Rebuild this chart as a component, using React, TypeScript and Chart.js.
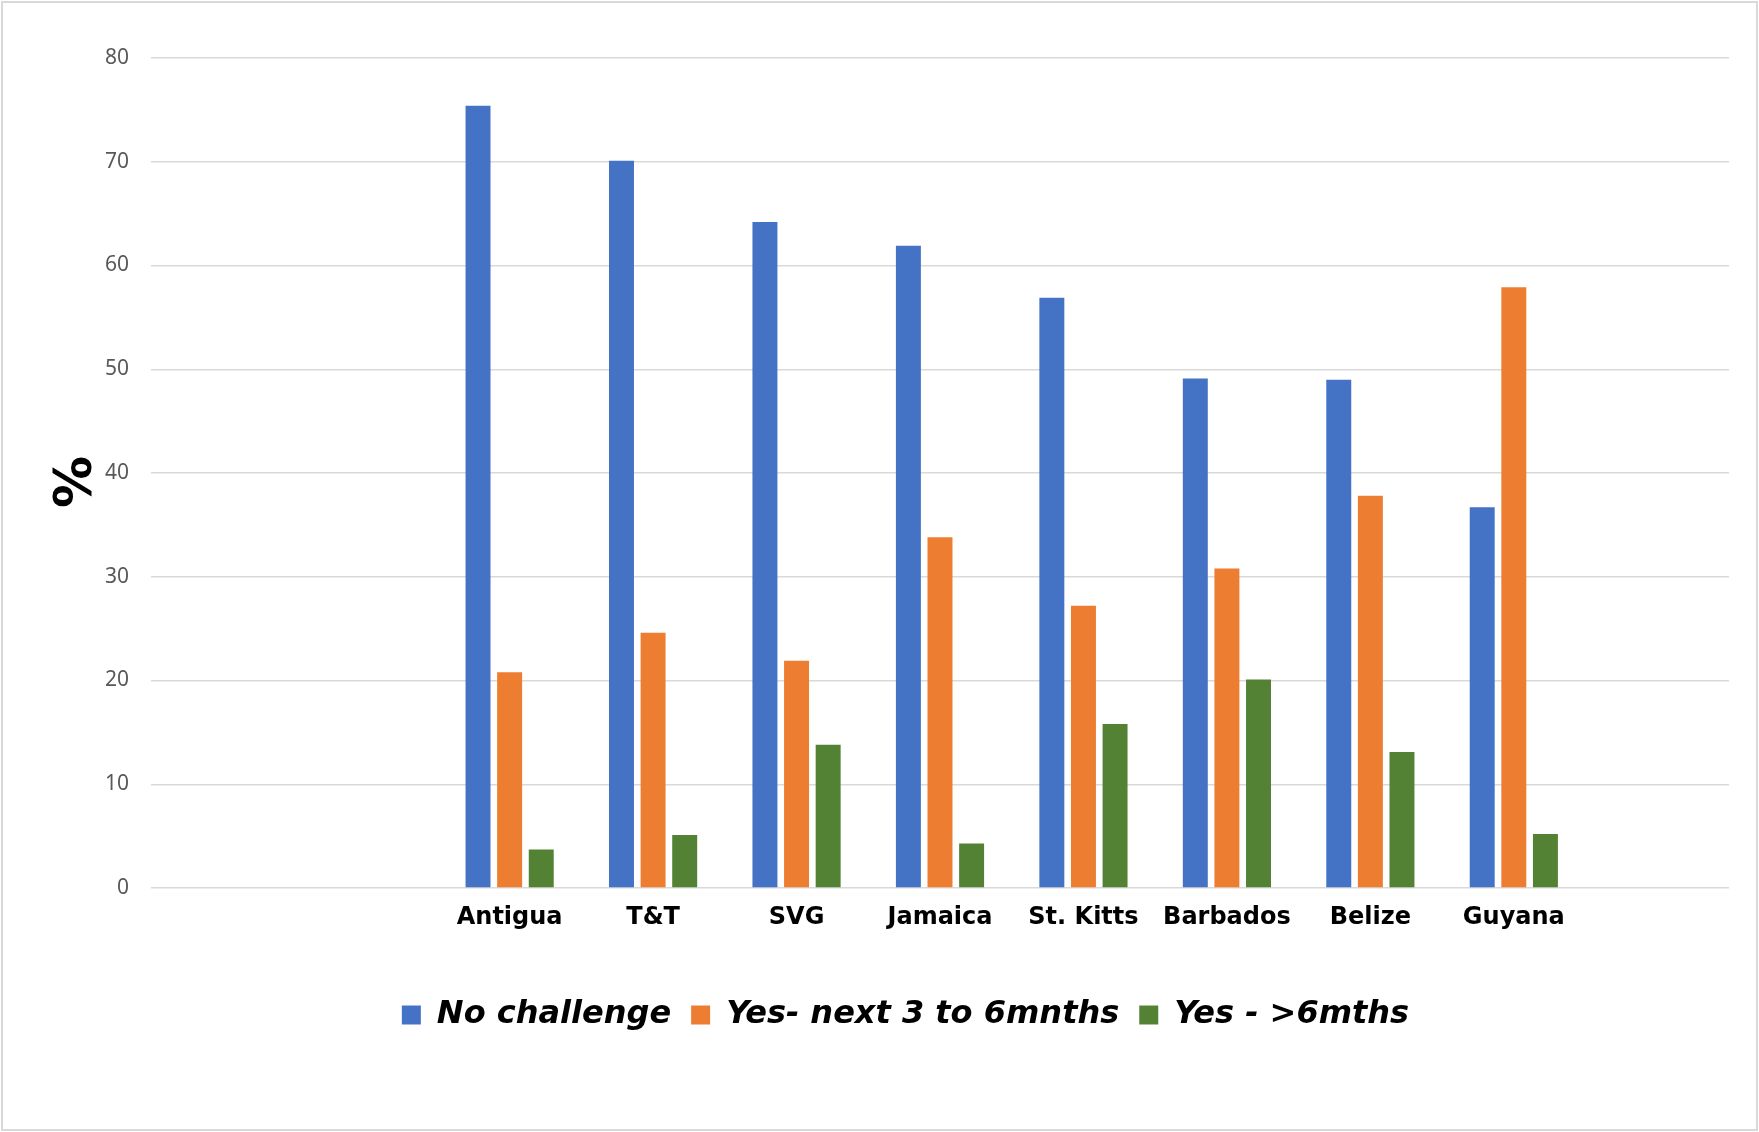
import React, { useEffect, useRef } from "react";
import { Chart, registerables } from "chart.js";

Chart.register(...registerables);

const categories = ["", "", "Antigua", "T&T", "SVG", "Jamaica", "St. Kitts", "Barbados", "Belize", "Guyana", ""];
const noChallenge = [null, null, 75.4, 70.1, 64.2, 61.9, 56.9, 49.1, 49.0, 36.7, null];
const yesNext3to6 = [null, null, 20.8, 24.6, 21.9, 33.8, 27.2, 30.8, 37.8, 57.9, null];
const yesOver6 = [null, null, 3.7, 5.1, 13.8, 4.3, 15.8, 20.1, 13.1, 5.2, null];
const seriesNames = ["No challenge", "Yes- next 3 to 6mnths", "Yes - >6mths"];
const seriesColors = ["#4472C4", "#ED7D31", "#548235"];
const yMin = 0;
const yMax = 80;
const yStep = 10;

export default function App() {
  const ref = useRef<HTMLCanvasElement | null>(null);

  useEffect(() => {
    if (!ref.current) return;
    const values = [noChallenge, yesNext3to6, yesOver6];
    const chart = new Chart(ref.current, {
      type: "bar",
      data: {
        labels: categories,
        datasets: values.map((v, i) => ({
          label: seriesNames[i],
          data: v as any,
          backgroundColor: seriesColors[i],
          borderWidth: 0,
          categoryPercentage: 0.661,
          barPercentage: 0.79,
        })),
      },
      options: {
        responsive: false,
        animation: false,
        layout: { padding: { left: 82, right: 30, top: 58, bottom: 91 } },
        plugins: {
          tooltip: { enabled: false },
          legend: {
            position: "bottom",
            labels: {
              boxWidth: 19,
              boxHeight: 19,
              padding: 20,
              color: "#000000",
              font: { family: "'DejaVu Sans', sans-serif", size: 32, weight: "bold", style: "italic" },
            },
          },
        },
        scales: {
          x: {
            grid: { display: false },
            border: { display: false },
            ticks: {
              padding: 7,
              color: "#000000",
              maxRotation: 0,
              autoSkip: false,
              font: { family: "'DejaVu Sans', sans-serif", size: 24, weight: "bold" },
            },
            afterFit: (scale: any) => {
              scale.height = 91;
            },
          },
          y: {
            min: yMin,
            max: yMax,
            grid: { color: "#d9d9d9", lineWidth: 1.5, drawTicks: false },
            border: { display: false },
            ticks: {
              stepSize: yStep,
              padding: 22,
              color: "#595959",
              font: { family: "'Noto Sans', sans-serif", size: 21 },
            },
            title: {
              display: true,
              text: "% ",
              color: "#000000",
              padding: { top: -31, bottom: 0 },
              font: { family: "'DejaVu Sans', sans-serif", size: 52, weight: "bold", lineHeight: 1 },
            },
            afterFit: (scale: any) => {
              scale.width = 69;
            },
          },
        },
      },
    });
    return () => chart.destroy();
  }, []);

  return (
    <div style={{ position: "fixed", left: 0, top: 0, width: 1759, height: 1132, background: "#ffffff" }}>
      <canvas ref={ref} width={1759} height={1132} style={{ display: "block" }} />
      <div
        style={{
          position: "absolute",
          left: 1,
          top: 1,
          width: 1757,
          height: 1130,
          boxSizing: "border-box",
          border: "2px solid #d9d9d9",
          pointerEvents: "none",
        }}
      />
    </div>
  );
}
